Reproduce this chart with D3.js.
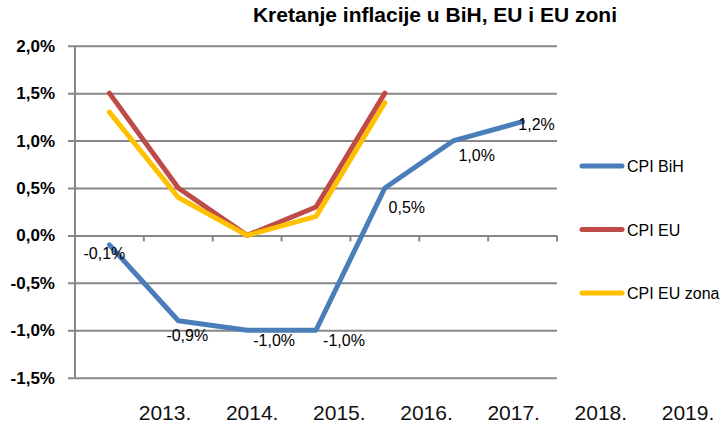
<!DOCTYPE html>
<html>
<head>
<meta charset="utf-8">
<script src="https://cdn.jsdelivr.net/npm/d3@7"></script>
<style>
  body { margin: 0; background: #fff; }
  svg { font-family: "Liberation Sans", Arial, sans-serif; }
</style>
</head>
<body>
<svg id="chart" width="727" height="423"></svg>
<script>
const title = "Kretanje inflacije u BiH, EU i EU zoni";
const years = ["2013.", "2014.", "2015.", "2016.", "2017.", "2018.", "2019."];
const cpiBiH = [-0.1, -0.9, -1.0, -1.0, 0.5, 1.0, 1.2];
const cpiEU = [1.5, 0.5, 0.0, 0.3, 1.5, null, null];
const cpiEUzona = [1.3, 0.4, 0.0, 0.2, 1.4, null, null];
const yTicks = [-1.5, -1.0, -0.5, 0.0, 0.5, 1.0, 1.5, 2.0];

const series = [
    { name: "CPI BiH", values: cpiBiH, color: "#4a7ebb" },
    { name: "CPI EU", values: cpiEU, color: "#be4b48" },
    { name: "CPI EU zona", values: cpiEUzona, color: "#ffc000" }
];

// label offsets for the BiH data labels (dx, dy from point)
const labelOffset = [[-5, 14], [9, 20], [27, 16], [28, 16], [22, 25], [23, 20], [14, 8]];

const svg = d3.select("#chart");
const plotLeft = 75, plotRight = 557, plotTop = 45.7, plotBottom = 377.7;

const locale = d3.formatLocale({ decimal: ",", thousands: ".", grouping: [3], currency: ["", ""], minus: "-" });
const pct = v => locale.format(".1f")(v) + "%";

const x = d3.scaleBand().domain(years).range([plotLeft, plotRight]);
const xLabel = d3.scalePoint().domain(years).range([165, 688]);
const y = d3.scaleLinear().domain([-1.5, 2.0]).range([plotBottom, plotTop]);

// title
svg.append("text")
    .attr("x", 435).attr("y", 22)
    .attr("text-anchor", "middle")
    .style("font-size", "21px").style("font-weight", "bold")
    .text(title);

// grid + y axis
const yAxis = svg.append("g")
    .attr("transform", `translate(${plotLeft},0)`)
    .call(d3.axisLeft(y).tickValues(yTicks).tickSize(-(plotRight - plotLeft)).tickFormat(pct));
yAxis.select(".domain").remove();
yAxis.selectAll(".tick line")
    .attr("x1", -7)
    .attr("stroke", "#878787").attr("stroke-width", 2);
yAxis.selectAll(".tick text")
    .attr("x", -20)
    .style("font-size", "17px").style("font-weight", "bold").attr("fill", "#000");

svg.append("line")
    .attr("x1", plotLeft).attr("x2", plotLeft).attr("y1", plotTop).attr("y2", plotBottom)
    .attr("stroke", "#878787").attr("stroke-width", 2);

// x axis ticks on zero line
const bounds = years.map(d => x(d)).concat([plotRight]);
svg.append("g").selectAll("line")
    .data(bounds.slice(1)).enter().append("line")
    .attr("x1", d => d).attr("x2", d => d)
    .attr("y1", y(0)).attr("y2", y(0) + 6)
    .attr("stroke", "#878787").attr("stroke-width", 2);

// category labels
svg.append("g").selectAll("text")
    .data(years).enter().append("text")
    .attr("x", d => xLabel(d)).attr("y", 420)
    .attr("text-anchor", "middle")
    .style("font-size", "21px").attr("fill", "#111")
    .text(d => d);

// lines
const line = d3.line()
    .defined(d => d.v !== null)
    .x(d => x(d.year) + x.bandwidth() / 2)
    .y(d => y(d.v));

const drawOrder = [series[1], series[2], series[0]];
svg.append("g").selectAll("path")
    .data(drawOrder).enter().append("path")
    .attr("d", s => line(s.values.map((v, i) => ({ year: years[i], v: v }))))
    .attr("fill", "none")
    .attr("stroke", s => s.color)
    .attr("stroke-width", 5)
    .attr("stroke-linejoin", "round")
    .attr("stroke-linecap", "round");

// data labels for BiH
svg.append("g").selectAll("text")
    .data(cpiBiH).enter().append("text")
    .attr("x", (d, i) => x(years[i]) + x.bandwidth() / 2 + labelOffset[i][0])
    .attr("y", (d, i) => y(d) + labelOffset[i][1])
    .attr("text-anchor", "middle")
    .style("font-size", "16px").attr("fill", "#000")
    .text(d => pct(d));

// legend
const legend = svg.append("g").selectAll("g")
    .data(series).enter().append("g")
    .attr("transform", (d, i) => `translate(580,${166 + i * 63.5})`);
legend.append("line")
    .attr("x1", 2).attr("x2", 42)
    .attr("stroke", d => d.color).attr("stroke-width", 5).attr("stroke-linecap", "round");
legend.append("text")
    .attr("x", 47).attr("y", 6)
    .style("font-size", "16px").attr("fill", "#000")
    .text(d => d.name);
</script>
</body>
</html>
